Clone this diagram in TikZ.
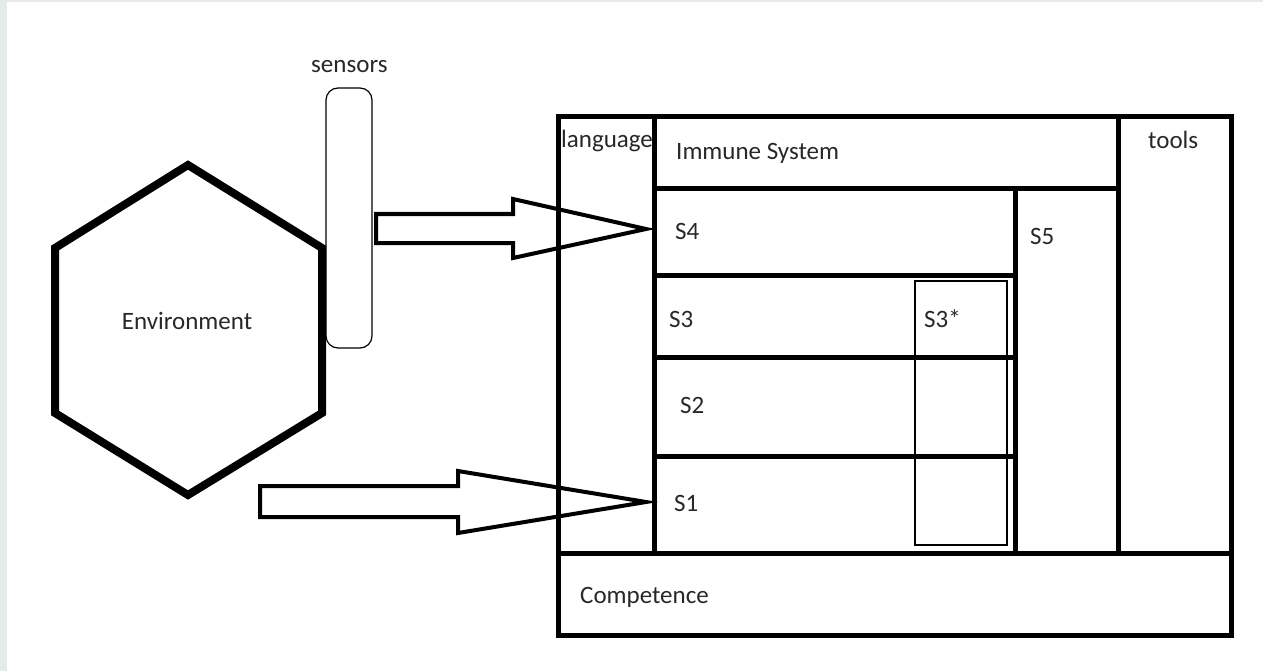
\documentclass[tikz,border=0pt]{standalone}
\usepackage{fontspec}
\setmainfont{Carlito}
\usetikzlibrary{positioning}

\definecolor{framegray}{RGB}{229,234,234}
\definecolor{textgray}{RGB}{40,40,40}

\tikzset{
  cell/.style={line width=5pt},
  lbl/.style={font=\fontsize{25}{30}\selectfont, text=textgray, inner sep=0pt, anchor=base west},
  blockarrow/.style={line width=4pt, line join=miter},
}

\begin{document}
\begin{tikzpicture}[x=1pt,y=-1pt]
  \useasboundingbox (0,0) rectangle (1263,671);

  % Background with the grey frame
  \fill[framegray] (0,0) rectangle (1263,671);
  \fill[white] (7,2) rectangle (1263,671);

  % Environment hexagon
  \draw[line width=8pt, line join=miter]
    (188,165) -- (322,248) -- (322,413) --
    (188,495) -- (55,413) -- (55,248) -- cycle;
  \node[lbl, anchor=base] (env) at (187,329) {Environment};

  % Sensors
  \node[draw, line width=1.2pt, rounded corners=12pt, inner sep=0pt,
        minimum width=46pt, minimum height=260pt] (sens) at (349,218) {};
  \node[lbl] (senslbl) at (311,73) {sensors};

  % Block arrows into S4 and S1
  \coordinate (s4in) at (646,229);
  \coordinate (s1in) at (646,502);
  \draw[blockarrow] (376,214) -- (513,214) -- (513,199) -- (s4in) --
    (513,258) -- (513,243) -- (376,243) -- cycle;
  \draw[blockarrow] (260,486) -- (458,486) -- (458,471) -- (s1in) --
    (458,533) -- (458,517) -- (260,517) -- cycle;

  % Organisation box
  \draw[cell] (558,117) rectangle (1231,635);
  \draw[cell] (558,553) -- (1231,553);
  \draw[cell] (654,117) -- (654,553);
  \draw[cell] (1118,117) -- (1118,553);
  \draw[cell] (654,189) -- (1118,189);
  \draw[cell] (1015,189) -- (1015,553);
  \foreach \y in {275,357,456}
    \draw[cell] (654,\y) -- (1015,\y);
  % S3* strip
  \draw[line width=2pt] (915,281) rectangle (1007,545);

  % Labels
  \node[lbl] (language) at (561,148) {language};
  \node[lbl] (immune) at (676,160) {Immune System};
  \node[lbl] (tools) at (1148,149) {tools};
  \node[lbl] (s4) at (675,240) {S4};
  \node[lbl] (s5) at (1030,244) {S5};
  \node[lbl] (s3) at (669,327) {S3};
  \node[lbl] (s3star) at (924,327) {S3*};
  \node[lbl] (s2) at (680,413) {S2};
  \node[lbl] (s1) at (674,511) {S1};
  \node[lbl] (competence) at (580,603) {Competence};
\end{tikzpicture}
\end{document}
